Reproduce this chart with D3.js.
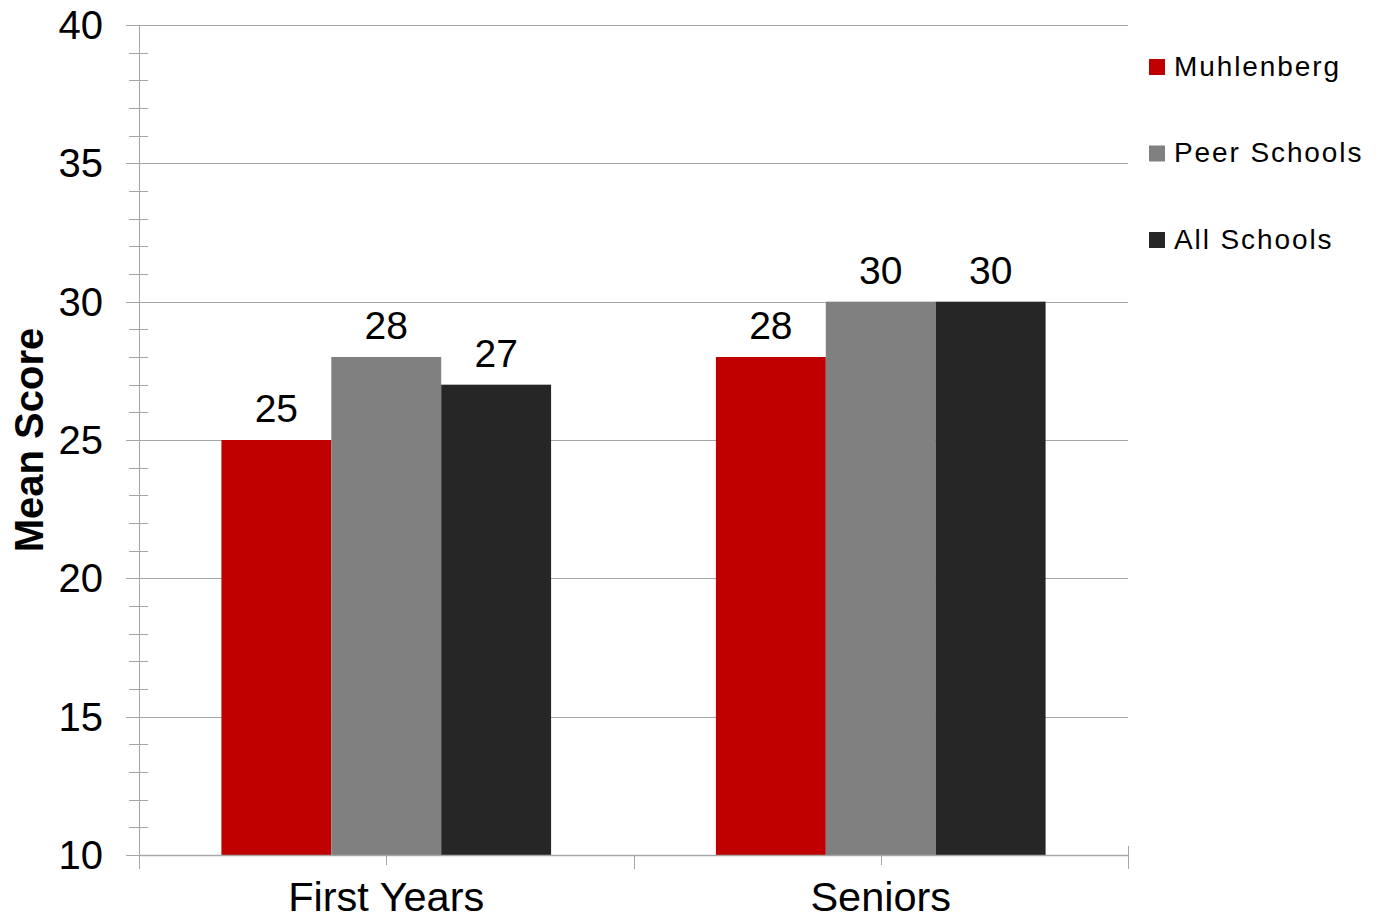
<!DOCTYPE html>
<html>
<head>
<meta charset="utf-8">
<script src="https://cdn.jsdelivr.net/npm/d3@7"></script>
<style>
  body { margin: 0; background: #fff; }
  text { font-family: "Liberation Sans", Arial, sans-serif; fill: #000; }
</style>
</head>
<body>
<div id="chart"></div>
<script>
// data
const categories = ['First Years', 'Seniors']
const seriesNames = ['Muhlenberg', 'Peer Schools', 'All Schools']
const seriesColors = ['#C00000', '#808080', '#262626']
const muhlenberg = [25, 28]
const peerSchools = [28, 30]
const allSchools = [27, 30]
const yTicks = [10, 15, 20, 25, 30, 35, 40]

const values = [muhlenberg, peerSchools, allSchools]
const rows = categories.map((c, i) => ({
  cat: c,
  vals: seriesNames.map((s, j) => ({ key: s, value: values[j][i], color: seriesColors[j] }))
}))

// dimension stuff
const width = 1382
const height = 922
const plotLeft = 139
const plotRight = 1128
const plotTop = 25
const plotBottom = 855
const gridColor = '#a6a6a6'

const svg = d3.select('#chart').append('svg')
  .attr('width', width)
  .attr('height', height)

// scales
const scaleY = d3.scaleLinear().domain([10, 40]).range([plotBottom, plotTop])
const scaleX0 = d3.scaleBand().domain(categories).range([plotLeft, plotRight])
const scaleX1 = d3.scaleBand().domain(seriesNames)
  .range([0, scaleX0.bandwidth()])
  .paddingInner(0)
  .paddingOuter(0.75)

// gridlines
svg.append('g')
  .selectAll('line')
  .data(yTicks)
  .join('line')
  .attr('x1', plotLeft - 13)
  .attr('x2', plotRight)
  .attr('y1', d => Math.round(scaleY(d)) + 0.5)
  .attr('y2', d => Math.round(scaleY(d)) + 0.5)
  .attr('stroke', gridColor)
  .attr('stroke-width', 1)

// minor ticks
const minor = d3.range(10, 41).filter(d => d % 5 !== 0)
svg.append('g')
  .selectAll('line')
  .data(minor)
  .join('line')
  .attr('x1', plotLeft - 10)
  .attr('x2', plotLeft + 9)
  .attr('y1', d => Math.round(scaleY(d)) + 0.5)
  .attr('y2', d => Math.round(scaleY(d)) + 0.5)
  .attr('stroke', gridColor)

// bars
const groups = svg.append('g')
  .selectAll('.g-bar')
  .data(rows)
  .join('g')
  .attr('class', 'g-bar')
  .attr('transform', d => `translate(${scaleX0(d.cat)},0)`)

groups.selectAll('rect')
  .data(d => d.vals)
  .join('rect')
  .attr('x', d => scaleX1(d.key))
  .attr('width', scaleX1.bandwidth())
  .attr('y', d => scaleY(d.value))
  .attr('height', d => plotBottom - scaleY(d.value))
  .attr('fill', d => d.color)

groups.selectAll('.value-label')
  .data(d => d.vals)
  .join('text')
  .attr('class', 'value-label')
  .attr('x', d => scaleX1(d.key) + scaleX1.bandwidth() / 2)
  .attr('y', d => scaleY(d.value) - 18)
  .attr('text-anchor', 'middle')
  .style('font-size', '39px')
  .text(d => d.value)

// y axis line
svg.append('line')
  .attr('x1', plotLeft + 0.5).attr('x2', plotLeft + 0.5)
  .attr('y1', plotTop).attr('y2', plotBottom + 13)
  .attr('stroke', gridColor)

// x axis line
svg.append('line')
  .attr('x1', plotLeft).attr('x2', plotRight)
  .attr('y1', plotBottom + 0.5).attr('y2', plotBottom + 0.5)
  .attr('stroke', gridColor)
  .attr('stroke-width', 1.5)

// category boundary ticks
const bounds = categories.map(c => scaleX0(c)).concat([plotRight])
svg.append('g')
  .selectAll('line')
  .data(bounds)
  .join('line')
  .attr('x1', d => Math.round(d) + 0.5)
  .attr('x2', d => Math.round(d) + 0.5)
  .attr('y1', (d, i) => i === bounds.length - 1 ? plotBottom - 9 : plotBottom)
  .attr('y2', plotBottom + 14)
  .attr('stroke', gridColor)

// category center ticks
svg.append('g')
  .selectAll('line')
  .data(categories)
  .join('line')
  .attr('x1', d => Math.round(scaleX0(d) + scaleX0.bandwidth() / 2) + 0.5)
  .attr('x2', d => Math.round(scaleX0(d) + scaleX0.bandwidth() / 2) + 0.5)
  .attr('y1', plotBottom)
  .attr('y2', plotBottom + 10)
  .attr('stroke', gridColor)

// y tick labels
svg.append('g')
  .selectAll('text')
  .data(yTicks)
  .join('text')
  .attr('x', 103)
  .attr('y', d => scaleY(d))
  .attr('dy', '0.35em')
  .attr('text-anchor', 'end')
  .style('font-size', '40px')
  .text(d => d)

// category labels
svg.append('g')
  .selectAll('text')
  .data(categories)
  .join('text')
  .attr('x', d => scaleX0(d) + scaleX0.bandwidth() / 2)
  .attr('y', 911)
  .attr('text-anchor', 'middle')
  .style('font-size', '41.5px')
  .text(d => d)

// axis title
svg.append('text')
  .attr('transform', 'translate(43, 440) rotate(-90)')
  .attr('text-anchor', 'middle')
  .style('font-size', '40px')
  .style('font-weight', 'bold')
  .text('Mean Score')

// legend
const legend = svg.append('g')
  .selectAll('g')
  .data(seriesNames)
  .join('g')
  .attr('transform', (d, i) => `translate(1149, ${67 + i * 86.5})`)

legend.append('rect')
  .attr('x', 0)
  .attr('y', -8)
  .attr('width', 16)
  .attr('height', 16)
  .attr('fill', (d, i) => seriesColors[i])

legend.append('text')
  .attr('x', 25)
  .attr('y', -1)
  .attr('dy', '0.35em')
  .style('font-size', '28px')
  .style('letter-spacing', '1.9px')
  .text(d => d)
</script>
</body>
</html>
